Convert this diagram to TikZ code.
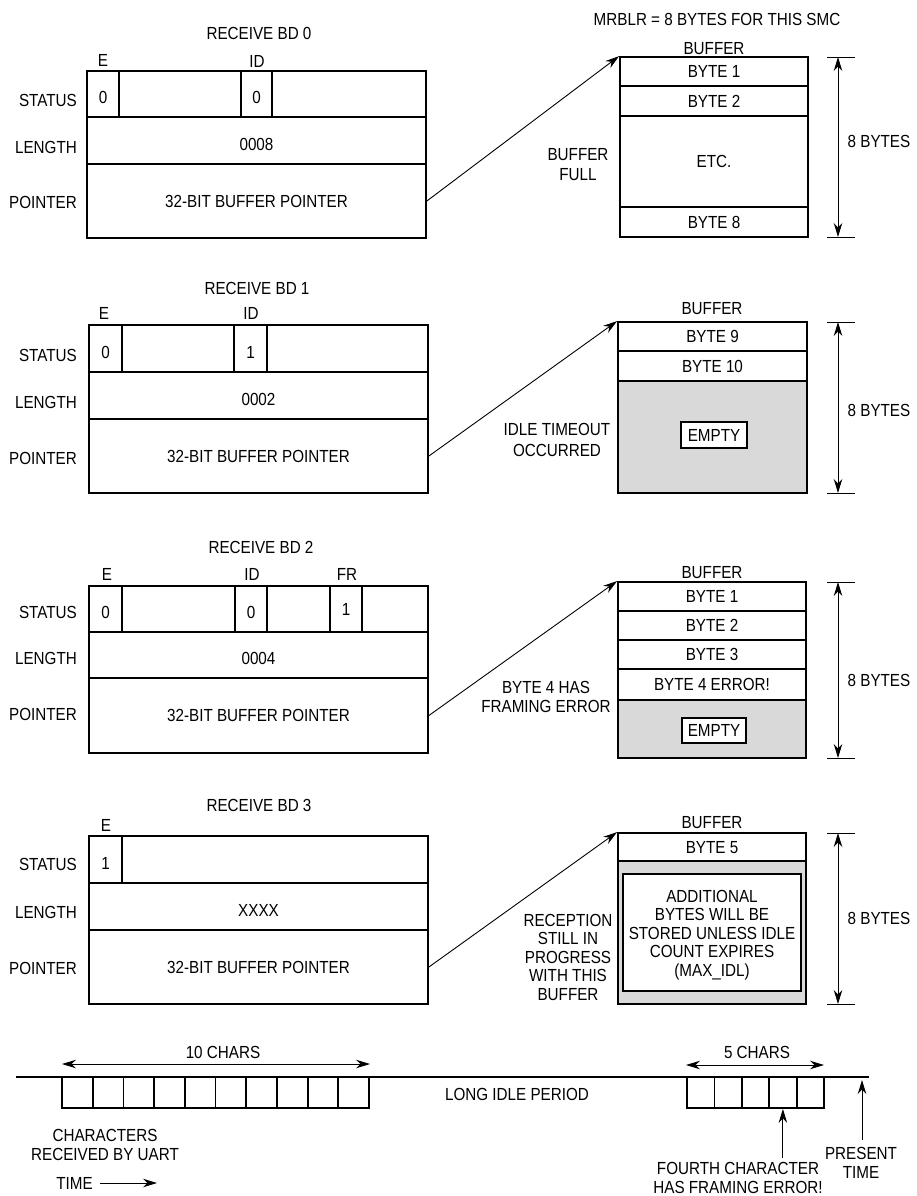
\documentclass[tikz,border=0pt]{standalone}
\usepackage{fontspec}
\setmainfont{Liberation Sans}[FakeStretch=0.87]
\usetikzlibrary{arrows.meta}
\definecolor{bufgrey}{gray}{0.85}
\tikzset{
  box/.style={draw, line width=1.8pt, inner sep=0pt, text height=12.5pt, text depth=0pt},
  low/.style={text height=19pt},
  lab/.style={inner sep=0pt, text height=12.5pt, text depth=0pt},
  mlab/.style={inner sep=0pt, align=center, anchor=north},
  ptr/.style={line width=0.9pt, -{Stealth[length=14pt,width=8.5pt]}},
  dim/.style={line width=0.9pt, {Stealth[length=14pt,width=8.5pt]}-{Stealth[length=14pt,width=8.5pt]}},
  tickline/.style={line width=0.9pt},
}
\newcommand\cell[7][]{\node[box,#1,minimum width={(#4-#2)*1pt},minimum height={(#5-#3)*1pt}] (#6) at ({(#2+#4)/2},{(#3+#5)/2}) {#7};}
\begin{document}
\begin{tikzpicture}[x=1pt,y=-1pt,font=\fontsize{17.5}{19}\selectfont]
\useasboundingbox (0,0) rectangle (917,1196);

% ---------------- BD 0 ----------------
\node[lab] (bd0t) at (259,33) {RECEIVE BD 0};
\node[lab] (bd0el) at (103,60) {E};
\node[lab] (bd0idl) at (257,61) {ID};
\cell{87}{71}{426}{117}{bd0s}{}
\cell[low]{87}{71}{119}{117}{bd0e}{0}
\cell[low]{241}{71}{272}{117}{bd0id}{0}
\cell[low]{87}{117}{426}{164}{bd0l}{0008}
\cell{87}{164}{426}{238}{bd0p}{32-BIT BUFFER POINTER}
\node[lab,anchor=east] (bd0sl) at (77,100) {STATUS};
\node[lab,anchor=east] (bd0ll) at (77,147) {LENGTH};
\node[lab,anchor=east] (bd0pl) at (77,202) {POINTER};

% ---------------- BD 1 ----------------
\node[lab] (bd1t) at (257,288) {RECEIVE BD 1};
\node[lab] (bd1el) at (104,313) {E};
\node[lab] (bd1idl) at (251,313) {ID};
\cell{89}{325}{428}{372}{bd1s}{}
\cell[low]{89}{325}{122}{372}{bd1e}{0}
\cell[low]{234}{325}{267}{372}{bd1id}{1}
\cell[low]{89}{372}{428}{419}{bd1l}{0002}
\cell{89}{419}{428}{493}{bd1p}{32-BIT BUFFER POINTER}
\node[lab,anchor=east] (bd1sl) at (77,355) {STATUS};
\node[lab,anchor=east] (bd1ll) at (77,402) {LENGTH};
\node[lab,anchor=east] (bd1pl) at (77,458) {POINTER};

% ---------------- BD 2 ----------------
\node[lab] (bd2t) at (261,547) {RECEIVE BD 2};
\node[lab] (bd2el) at (107,574) {E};
\node[lab] (bd2idl) at (252,574) {ID};
\node[lab] (bd2frl) at (347,574) {FR};
\cell{89}{586}{428}{632}{bd2s}{}
\cell[low]{89}{586}{122}{632}{bd2e}{0}
\cell[low]{235}{586}{267}{632}{bd2id}{0}
\cell{330}{586}{362}{632}{bd2fr}{1}
\cell[low]{89}{632}{428}{678}{bd2l}{0004}
\cell{89}{678}{428}{753}{bd2p}{32-BIT BUFFER POINTER}
\node[lab,anchor=east] (bd2sl) at (77,612) {STATUS};
\node[lab,anchor=east] (bd2ll) at (77,658) {LENGTH};
\node[lab,anchor=east] (bd2pl) at (77,714) {POINTER};

% ---------------- BD 3 ----------------
\node[lab] (bd3t) at (259,805) {RECEIVE BD 3};
\node[lab] (bd3el) at (106,825) {E};
\cell{89}{836}{428}{883}{bd3s}{}
\cell[low]{89}{836}{122}{883}{bd3e}{1}
\cell[low]{89}{883}{428}{930}{bd3l}{XXXX}
\cell{89}{930}{428}{1004}{bd3p}{32-BIT BUFFER POINTER}
\node[lab,anchor=east] (bd3sl) at (77,864) {STATUS};
\node[lab,anchor=east] (bd3ll) at (77,912) {LENGTH};
\node[lab,anchor=east] (bd3pl) at (77,968) {POINTER};

% ---------------- Buffer 0 ----------------
\node[lab] (mrblr) at (717,19) {MRBLR = 8 BYTES FOR THIS SMC};
\node[lab] (b0t) at (714,48) {BUFFER};
\cell{620}{57}{808}{86}{b0a}{BYTE 1}
\cell{620}{86}{808}{116}{b0b}{BYTE 2}
\cell{620}{116}{808}{207}{b0c}{ETC.}
\cell{620}{207}{808}{237}{b0d}{BYTE 8}
\node[mlab,font=\fontsize{17.5}{20}\selectfont] (b0note) at (578,148.75) {BUFFER\\FULL};
\draw[tickline] (827,57) -- (855,57) (827,237) -- (855,237);
\coordinate (d0t) at (838,57); \coordinate (d0b) at (838,237);
\draw[dim] (d0t) -- (d0b);
\node[lab] (d0l) at (879,141) {8 BYTES};
\draw[ptr] (bd0p.east) -- (b0a.north west);

% ---------------- Buffer 1 ----------------
\node[lab] (b1t) at (712,308) {BUFFER};
\cell{618}{322}{807}{351}{b1a}{BYTE 9}
\cell{618}{351}{807}{381}{b1b}{BYTE 10}
\cell[fill=bufgrey]{618}{381}{807}{493}{b1c}{}
\cell[fill=white]{681}{422}{747}{448}{b1e}{EMPTY}
\node[mlab,font=\fontsize{17.5}{21}\selectfont] (b1note) at (557,422.75) {IDLE TIMEOUT\\OCCURRED};
\draw[tickline] (827,322) -- (855,322) (827,493) -- (855,493);
\coordinate (d1t) at (838,322); \coordinate (d1b) at (838,493);
\draw[dim] (d1t) -- (d1b);
\node[lab] (d1l) at (879,410) {8 BYTES};
\draw[ptr] (bd1p.east) -- (b1a.north west);

% ---------------- Buffer 2 ----------------
\node[lab] (b2t) at (712,572) {BUFFER};
\cell{618}{582}{806}{611}{b2a}{BYTE 1}
\cell{618}{611}{806}{640}{b2b}{BYTE 2}
\cell{618}{640}{806}{669}{b2c}{BYTE 3}
\cell{618}{669}{806}{700}{b2d}{BYTE 4 ERROR!}
\cell[fill=bufgrey]{618}{700}{806}{758}{b2e}{}
\cell[fill=white]{682}{718}{746}{743}{b2f}{EMPTY}
\node[mlab] (b2note) at (546,680.75) {BYTE 4 HAS\\FRAMING ERROR};
\draw[tickline] (827,582) -- (855,582) (827,758) -- (855,758);
\coordinate (d2t) at (838,582); \coordinate (d2b) at (838,758);
\draw[dim] (d2t) -- (d2b);
\node[lab] (d2l) at (879,680) {8 BYTES};
\draw[ptr] (bd2p.east) -- (b2a.north west);

% ---------------- Buffer 3 ----------------
\node[lab] (b3t) at (712,822) {BUFFER};
\cell{618}{833}{806}{861}{b3a}{BYTE 5}
\cell[fill=bufgrey]{618}{861}{806}{1004}{b3b}{}
\cell[fill=white]{623}{874}{801}{991}{b3c}{}
\node[mlab,font=\fontsize{17.5}{18.5}\selectfont] (b3text) at (712,889.75) {ADDITIONAL\\BYTES WILL BE\\STORED UNLESS IDLE\\COUNT EXPIRES\\(MAX\_IDL)};
\node[mlab,font=\fontsize{17.5}{18.5}\selectfont] (b3note) at (568,913.75) {RECEPTION\\STILL IN\\PROGRESS\\WITH THIS\\BUFFER};
\draw[tickline] (827,833) -- (855,833) (827,1004) -- (855,1004);
\coordinate (d3t) at (838,833); \coordinate (d3b) at (838,1004);
\draw[dim] (d3t) -- (d3b);
\node[lab] (d3l) at (879,918) {8 BYTES};
\draw[ptr] (bd3p.east) -- (b3a.north west);

% ---------------- Timeline ----------------
\coordinate (tl0) at (16,1077); \coordinate (tl1) at (869,1077);
\draw[line width=1.5pt] (tl0) -- (tl1);
\foreach \i in {0,...,9}{
  \pgfmathsetmacro\xa{62+30.7*\i}
  \pgfmathsetmacro\xb{62+30.7*(\i+1)}
  \cell[fill=white]{\xa}{1077}{\xb}{1108}{lc\i}{}
}
\foreach \i in {0,...,4}{
  \pgfmathsetmacro\xa{687+27.4*\i}
  \pgfmathsetmacro\xb{687+27.4*(\i+1)}
  \cell[fill=white]{\xa}{1077}{\xb}{1108}{rc\i}{}
}
\coordinate (c10a) at (62,1064); \coordinate (c10b) at (370,1064);
\draw[dim] (c10a) -- (c10b);
\node[lab] (c10l) at (223,1052) {10 CHARS};
\coordinate (c5a) at (686,1065); \coordinate (c5b) at (824,1065);
\draw[dim] (c5a) -- (c5b);
\node[lab] (c5l) at (757,1052) {5 CHARS};
\node[lab] (idle) at (517,1094) {LONG IDLE PERIOD};
\node[mlab] (chr) at (105,1128.75) {CHARACTERS\\RECEIVED BY UART};
\node[lab] (time) at (74.5,1183) {TIME};
\coordinate (ta0) at (100,1183); \coordinate (ta1) at (157,1183);
\draw[ptr] (ta0) -- (ta1);
\coordinate (fcb) at ([yshift=-49pt]rc3.south);
\draw[ptr] (fcb) -- (rc3.south);
\node[mlab] (fourth) at (738,1161.75) {FOURTH CHARACTER\\HAS FRAMING ERROR!};
\coordinate (pt0) at (862,1140); \coordinate (pt1) at (862,1080);
\draw[ptr] (pt0) -- (pt1);
\node[mlab] (present) at (861,1146.75) {PRESENT\\TIME};
\end{tikzpicture}
\end{document}
